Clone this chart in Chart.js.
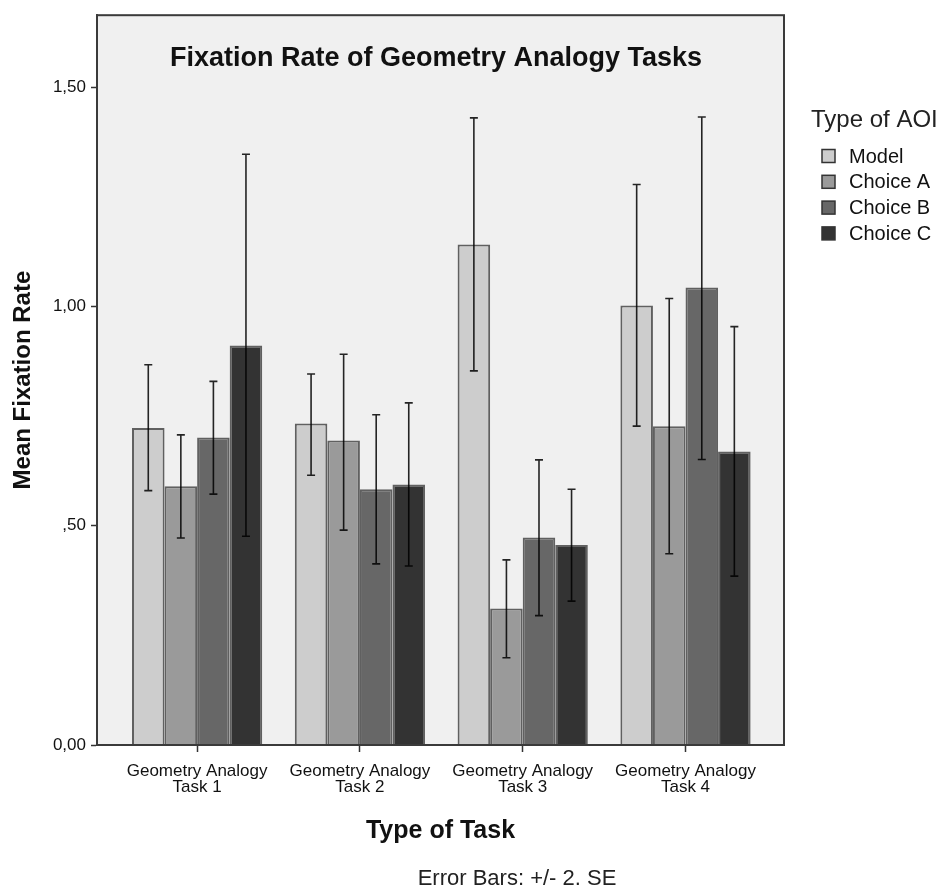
<!DOCTYPE html>
<html>
<head>
<meta charset="utf-8">
<script src="https://cdn.jsdelivr.net/npm/chart.js@4.4.1/dist/chart.umd.min.js"></script>
<style>
  html, body { margin: 0; padding: 0; background: #fff; }
</style>
</head>
<body>
<canvas id="chart" width="948" height="894"></canvas>
<script>
// Categories and positions on the x axis
const tasks = [
  ["Geometry Analogy", "Task 1"],
  ["Geometry Analogy", "Task 2"],
  ["Geometry Analogy", "Task 3"],
  ["Geometry Analogy", "Task 4"]
];
const taskPos = [1, 2, 3, 4];

const aoiTypes = ["Model", "Choice A", "Choice B", "Choice C"];
const aoiColors = ["#cdcdcd", "#9a9a9a", "#676767", "#333333"];

// Mean fixation rate per AOI (Task 1..4)
const model   = [0.723, 0.733, 1.141, 1.002];
const choiceA = [0.590, 0.694, 0.311, 0.727];
const choiceB = [0.701, 0.583, 0.473, 1.043];
const choiceC = [0.911, 0.594, 0.456, 0.669];

// Error bars: +/- 2 SE (lower / upper)
const modelLo   = [0.580, 0.615, 0.853, 0.727];
const modelHi   = [0.867, 0.846, 1.430, 1.278];
const choiceALo = [0.472, 0.490, 0.199, 0.436];
const choiceAHi = [0.707, 0.891, 0.422, 1.018];
const choiceBLo = [0.572, 0.413, 0.295, 0.651];
const choiceBHi = [0.829, 0.753, 0.650, 1.432];
const choiceCLo = [0.476, 0.408, 0.328, 0.385];
const choiceCHi = [1.347, 0.780, 0.583, 0.954];

const yTicks = [0, 0.5, 1, 1.5];
const yTickLabels = ["0,00", ",50", "1,00", "1,50"];

const means = [model, choiceA, choiceB, choiceC];
const lows = [modelLo, choiceALo, choiceBLo, choiceCLo];
const highs = [modelHi, choiceAHi, choiceBHi, choiceCHi];

const FONT = "'Liberation Sans', Arial, sans-serif";

// plot background, error bars, frame, title, legend and note
const plotBox = {
  id: "plotBox",
  beforeDraw(chart) {
    const { ctx, chartArea: a } = chart;
    ctx.save();
    ctx.fillStyle = "#fff";
    ctx.fillRect(0, 0, chart.width, chart.height);
    ctx.fillStyle = "#f0f0f0";
    ctx.fillRect(a.left, a.top, a.right - a.left, a.bottom - a.top);
    ctx.restore();
  },
  afterDatasetsDraw(chart) {
    const { ctx, chartArea: a } = chart;
    const yScale = chart.scales.y;
    ctx.save();
    // error bars
    ctx.strokeStyle = "rgba(0,0,0,0.85)";
    ctx.lineWidth = 1.6;
    chart.data.datasets.forEach((ds, k) => {
      const meta = chart.getDatasetMeta(k);
      meta.data.forEach((bar, i) => {
        const yHi = yScale.getPixelForValue(highs[k][i]);
        const yLo = yScale.getPixelForValue(lows[k][i]);
        ctx.beginPath();
        ctx.moveTo(bar.x, yHi);
        ctx.lineTo(bar.x, yLo);
        ctx.moveTo(bar.x - 4, yHi);
        ctx.lineTo(bar.x + 4, yHi);
        ctx.moveTo(bar.x - 4, yLo);
        ctx.lineTo(bar.x + 4, yLo);
        ctx.stroke();
      });
    });
    // frame
    ctx.strokeStyle = "#3a3a3a";
    ctx.lineWidth = 2;
    ctx.strokeRect(a.left, a.top, a.right - a.left, a.bottom - a.top);
    ctx.restore();
  },
  afterDraw(chart) {
    const { ctx } = chart;
    ctx.save();
    ctx.fillStyle = "#111";
    ctx.textBaseline = "middle";
    // title inside the plot
    ctx.font = "bold 27px " + FONT;
    ctx.textAlign = "center";
    ctx.fillText("Fixation Rate of Geometry Analogy Tasks", 436, 59);
    // note
    ctx.font = "22px " + FONT;
    ctx.fillStyle = "#222";
    ctx.fillText("Error Bars: +/- 2. SE", 517, 879);
    // legend
    ctx.textAlign = "left";
    ctx.font = "24px " + FONT;
    ctx.fillText("Type of AOI", 811, 120);
    ctx.font = "20px " + FONT;
    aoiTypes.forEach((name, k) => {
      const y = 156 + k * 25.8;
      ctx.fillStyle = aoiColors[k];
      ctx.fillRect(822, y - 6.5, 13, 13);
      ctx.strokeStyle = "#333";
      ctx.lineWidth = 1.5;
      ctx.strokeRect(822, y - 6.5, 13, 13);
      ctx.fillStyle = "#111";
      ctx.fillText(name, 849, y + 1);
    });
    ctx.restore();
  }
};

const ctx = document.getElementById("chart").getContext("2d");
const chart = new Chart(ctx, {
  type: "bar",
  data: {
    datasets: aoiTypes.map((name, k) => ({
      label: name,
      data: taskPos.map((p, i) => ({ x: p, y: means[k][i] })),
      backgroundColor: aoiColors[k],
      borderColor: "rgba(0,0,0,0.6)",
      borderWidth: 2,
      categoryPercentage: 0.8,
      barPercentage: 1.0
    }))
  },
  options: {
    responsive: false,
    animation: false,
    devicePixelRatio: 1,
    layout: { padding: { left: 0, top: 11, right: 164, bottom: 0 } },
    plugins: {
      legend: { display: false },
      tooltip: { enabled: false }
    },
    scales: {
      x: {
        type: "linear",
        offset: false,
        min: 0.385,
        max: 4.605,
        afterBuildTicks: (s) => { s.ticks = taskPos.map(v => ({ value: v })); },
        afterFit: (s) => { s.height = 149; },
        ticks: {
          callback: (v, i) => tasks[i],
          maxRotation: 0,
          autoSkip: false,
          color: "#111",
          padding: 12,
          font: { family: FONT, size: 17, lineHeight: 0.9 }
        },
        grid: { offset: false, drawOnChartArea: false, tickLength: 7, color: "#333", tickWidth: 1.5 },
        border: { color: "#555", width: 2 },
        title: {
          display: true,
          text: "Type of Task",
          color: "#111",
          font: { family: FONT, size: 25, weight: "bold" },
          padding: { top: 0, bottom: 48 }
        }
      },
      y: {
        min: 0,
        max: 1.664,
        afterBuildTicks: (s) => { s.ticks = yTicks.map(v => ({ value: v })); },
        afterFit: (s) => { s.width = 97; },
        ticks: {
          callback: (v, i) => yTickLabels[i],
          color: "#111",
          padding: 5,
          font: { family: FONT, size: 17 }
        },
        grid: { drawOnChartArea: false, tickLength: 6, color: "#333", tickWidth: 1.5 },
        border: { color: "#555", width: 2 },
        title: {
          display: true,
          text: "Mean Fixation Rate",
          color: "#111",
          font: { family: FONT, size: 24, weight: "bold" },
          padding: { top: 9 }
        }
      }
    }
  },
  plugins: [plotBox]
});
</script>
</body>
</html>
